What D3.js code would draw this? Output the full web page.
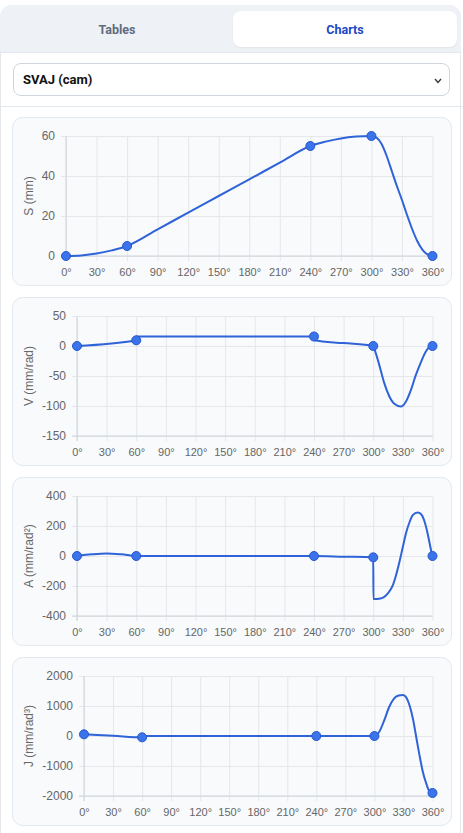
<!DOCTYPE html>
<html>
<head>
<meta charset="utf-8">
<script src="https://cdn.jsdelivr.net/npm/d3@7"></script>
<style>
  body { margin: 0; background: #fff; font-family: Roboto, Arial, sans-serif; }
  #app { position: relative; width: 463px; height: 833px; overflow: hidden; }
  .panel { position: absolute; left: 0; top: 5px; width: 461px; height: 840px; border: 1px solid #e5e7eb; border-radius: 12px 12px 0 0; box-sizing: border-box; }
  .tabs { position: absolute; left: 0; top: 5px; width: 461px; height: 48px; background: #eef2f7; border-radius: 12px 12px 0 0; border-bottom: 1px solid #e2e8f0; box-sizing: border-box; }
  .tab { position: absolute; top: 6px; height: 36px; line-height: 38px; text-align: center; font-weight: 700; font-size: 12.5px; }
  .tab.off { left: 6px; width: 222px; color: #5f6b80; }
  .tab.on { left: 233px; width: 224px; background: #fff; color: #1d47c4; border-radius: 8px; box-shadow: 0 1px 2px rgba(0,0,0,0.06); }
  .bar { position: absolute; left: 0; top: 106px; width: 463px; height: 1px; background: #e2e8f0; }
  .select { position: absolute; left: 13px; top: 63px; width: 437px; height: 33px; border: 1px solid #cfd5dd; border-radius: 8px; box-sizing: border-box; background: #fff; font-weight: 700; font-size: 13px; color: #111; line-height: 32px; padding-left: 9px; }
  .select svg { position: absolute; right: 7px; top: 14px; }
  #charts { position: absolute; left: 0; top: 0; }
</style>
</head>
<body>
<div id="app">
  <div class="panel"></div>
  <div class="tabs">
    <div class="tab off">Tables</div>
    <div class="tab on">Charts</div>
  </div>
  <div class="select">SVAJ (cam)
    <svg width="8" height="6"><polyline points="1,1 4,4.5 7,1" fill="none" stroke="#333" stroke-width="1.3"/></svg>
  </div>
  <div class="bar"></div>
  <svg id="charts"></svg>
</div>
<script>
(function() {

  const xTicks = [0, 30, 60, 90, 120, 150, 180, 210, 240, 270, 300, 330, 360]
  const keyAngles = [0, 60, 240, 300, 360]

  const sTicks = [0, 20, 40, 60]
  const sAngles = [0, 15, 30, 45, 60, 90, 120, 150, 180, 210, 240, 255, 270, 285, 300, 305, 310, 315, 320, 325, 330, 335, 340, 345, 350, 355, 360]
  const sValues = [0, 0.3, 1.2, 2.8, 5, 13.3, 21.7, 30, 38.3, 46.7, 55, 57.2, 58.8, 59.7, 60, 59.2, 56, 50, 42.5, 35, 28, 20.5, 13.5, 7.5, 3.2, 0.8, 0]
  const sKey = [0, 5, 55, 60, 0]

  const vTicks = [-150, -100, -50, 0, 50]
  const vAngles = [0, 60, 60.2, 90, 120, 150, 180, 210, 240, 240.2, 270, 300, 302, 306, 311, 316, 321, 328, 333, 338, 343, 348, 353, 356, 360]
  const vValues = [0, 9.5, 15.9, 15.9, 15.9, 15.9, 15.9, 15.9, 15.9, 9.5, 4.8, 0, -9, -31, -61, -83, -96, -101, -93, -74, -49, -28, -10, -3, 0]
  const vKey = [0, 9.5, 15.9, 0, 0]

  const aTicks = [-400, -200, 0, 200, 400]
  const aAngles = [0, 15, 30, 45, 60, 120, 180, 240, 270, 300, 300.2, 304, 310, 315, 320, 323, 326.5, 330, 333.5, 337, 340, 345, 348.5, 352, 355, 358.5, 360]
  const aValues = [0, 11, 17, 11, 0, 0, 0, 0, -4.5, -9, -287, -286, -277, -248, -192, -130, -40, 62, 160, 230, 272, 290, 278, 228, 152, 40, 0]
  const aKey = [0, 0, 0, -9, 0]

  const jTicks = [-2000, -1000, 0, 1000, 2000]
  const jAngles = [0, 30, 60, 60.2, 120, 180, 240, 300, 305, 310, 315, 320, 325, 329.5, 333, 336.5, 340, 343, 346.5, 350, 353.5, 357, 360]
  const jValues = [56, 8, -44, 0, 0, 0, 0, 0, 140, 510, 950, 1240, 1350, 1370, 1280, 1000, 540, 0, -630, -1190, -1580, -1850, -1900]
  const jKey = [56, -44, 0, 0, -1900]

  const charts = [
    {label: 'S (mm)', ticks: sTicks, angles: sAngles, values: sValues, keys: sKey},
    {label: 'V (mm/rad)', ticks: vTicks, angles: vAngles, values: vValues, keys: vKey},
    {label: 'A (mm/rad²)', ticks: aTicks, angles: aAngles, values: aValues, keys: aKey},
    {label: 'J (mm/rad³)', ticks: jTicks, angles: jAngles, values: jValues, keys: jKey}
  ]

  const svgWidth = 463
  const svgHeight = 833
  const cardLeft = 12
  const cardWidth = 439
  const cardHeight = 168
  const cardStep = 180
  const firstTop = 117
  const plotRight = 432.5
  const gridColor = '#e5e7eb'
  const axisColor = '#cfd3d9'
  const textColor = '#666'
  const lineColor = '#2f63d8'
  const chartFont = 'Liberation Sans, Arial, sans-serif'

  const svg = d3.select('#charts')
    .attr('width', svgWidth)
    .attr('height', svgHeight)

  function drawChart (chart, i) {
    const top = firstTop + i * cardStep
    const plotTop = top + 19
    const plotBottom = top + 139
    const g = svg.append('g')

    g.append('rect')
      .attr('x', cardLeft + 0.5)
      .attr('y', top + 0.5)
      .attr('width', cardWidth)
      .attr('height', cardHeight)
      .attr('rx', 10)
      .attr('fill', '#f8fafc')
      .attr('stroke', '#e2e8f0')

    const y = d3.scaleLinear()
      .domain(d3.extent(chart.ticks))
      .range([plotBottom, plotTop])

    // y labels first, so the plot can start right after the widest one
    const yAxisG = g.append('g')
    const yAxis = d3.axisLeft(y)
      .tickValues(chart.ticks)
      .tickFormat(d => String(d))
      .tickPadding(6)
      .tickSizeOuter(0)
    yAxisG.call(yAxis)
    yAxisG.attr('font-family', chartFont).attr('font-size', 12)
    let maxW = 0
    yAxisG.selectAll('text').each(function () { maxW = Math.max(maxW, this.getComputedTextLength()) })
    const left = Math.round(42 + maxW + 11)

    const x = d3.scaleLinear()
      .domain([0, 360])
      .range([left, plotRight])

    yAxis.tickSizeInner(-(plotRight - left + 5))
    yAxisG.attr('transform', `translate(${left - 5},0)`).call(yAxis)
    yAxisG.select('.domain').remove()
    yAxisG.selectAll('line').attr('stroke', gridColor)
    yAxisG.selectAll('text').attr('fill', textColor)

    const xAxisG = g.append('g')
      .attr('transform', `translate(0,${plotBottom + 5})`)
      .call(d3.axisBottom(x)
        .tickValues(xTicks)
        .tickFormat(d => d + '°')
        .tickSizeInner(-(plotBottom - plotTop + 5))
        .tickSizeOuter(0)
        .tickPadding(7))
      .attr('font-family', chartFont)
      .attr('font-size', 11)
    xAxisG.select('.domain').remove()
    xAxisG.selectAll('line').attr('stroke', gridColor)
    xAxisG.selectAll('text').attr('fill', textColor)

    g.append('line')
      .attr('x1', left).attr('x2', left)
      .attr('y1', plotTop).attr('y2', plotBottom + 5)
      .attr('stroke', axisColor)
    g.append('line')
      .attr('x1', left - 5).attr('x2', plotRight)
      .attr('y1', plotBottom).attr('y2', plotBottom)
      .attr('stroke', axisColor)

    g.append('text')
      .attr('transform', `translate(33,${(plotTop + plotBottom) / 2}) rotate(-90)`)
      .attr('text-anchor', 'middle')
      .attr('font-family', chartFont)
      .attr('font-size', 12)
      .attr('fill', textColor)
      .text(chart.label)

    const line = d3.line()
      .x(d => x(d[0]))
      .y(d => y(d[1]))
      .curve(d3.curveMonotoneX)

    g.append('path')
      .datum(d3.zip(chart.angles, chart.values))
      .attr('d', line)
      .attr('fill', 'none')
      .attr('stroke', lineColor)
      .attr('stroke-width', 2)

    g.selectAll('.point')
      .data(d3.zip(keyAngles, chart.keys))
      .enter()
      .append('circle')
      .classed('point', true)
      .attr('cx', d => x(d[0]))
      .attr('cy', d => y(d[1]))
      .attr('r', 4.5)
      .attr('fill', '#3b74ea')
      .attr('stroke', '#2557d0')
      .attr('stroke-width', 1)
  }

  charts.forEach(drawChart)

})()
</script>
</body>
</html>
